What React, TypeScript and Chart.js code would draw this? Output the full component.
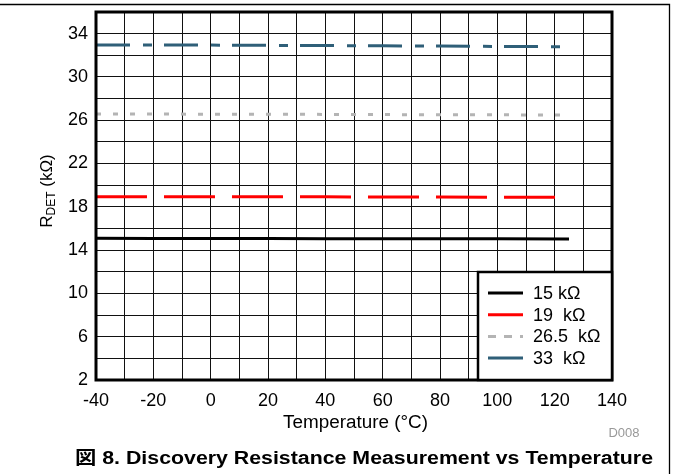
import React, { useEffect, useRef } from "react";
import { Chart, registerables } from "chart.js";

Chart.register(...registerables);

// ---- data ----
const temperatures = [-40, -20, 0, 20, 40, 60, 80, 100, 125];
const r15 = [15.09, 15.08, 15.08, 15.07, 15.06, 15.05, 15.05, 15.04, 15.03];
const r19 = [18.94, 18.93, 18.93, 18.92, 18.92, 18.91, 18.9, 18.89, 18.88];
const r265 = [26.58, 26.57, 26.56, 26.55, 26.54, 26.52, 26.51, 26.5, 26.48];
const r33 = [32.95, 32.95, 32.94, 32.92, 32.9, 32.88, 32.85, 32.82, 32.79];
const seriesLabels = ["15 kΩ", "19  kΩ", "26.5  kΩ", "33  kΩ"];
const xTickLabels = [-40, -20, 0, 20, 40, 60, 80, 100, 120, 140];
const yTickLabels = [2, 6, 10, 14, 18, 22, 26, 30, 34];

const FONT = "'Liberation Sans', Arial, Helvetica, sans-serif";

const pts = (ys: number[]) => temperatures.map((x, i) => ({ x, y: ys[i] }));

function fitText(ctx: CanvasRenderingContext2D, text: string, x: number, y: number, width: number) {
  const w = ctx.measureText(text).width;
  const sx = width / w;
  ctx.save();
  ctx.translate(x, y);
  ctx.scale(sx, 1);
  ctx.textAlign = "left";
  ctx.fillText(text, 0, 0);
  ctx.restore();
}

const decorPlugin = {
  id: "decor",
  beforeDraw(chart: any) {
    const ctx = chart.ctx;
    ctx.save();
    ctx.fillStyle = "#fff";
    ctx.fillRect(0, 0, chart.width, chart.height);
    ctx.restore();
  },
  afterDraw(chart: any) {
    const ctx = chart.ctx as CanvasRenderingContext2D;
    const a = chart.chartArea;
    ctx.save();
    // outer frame lines (top and right)
    ctx.strokeStyle = "#000";
    ctx.lineWidth = 1.3;
    ctx.beginPath();
    ctx.moveTo(0, 4.5);
    ctx.lineTo(669.5, 4.5);
    ctx.lineTo(669.5, chart.height);
    ctx.stroke();

    // plot border
    ctx.lineWidth = 3;
    ctx.strokeRect(a.left, a.top, a.right - a.left, a.bottom - a.top);

    // legend
    const lw = 134, lh = 108;
    const lx = a.right - lw, ly = a.bottom - lh;
    ctx.fillStyle = "#fff";
    ctx.fillRect(lx, ly, lw, lh);
    ctx.lineWidth = 2.5;
    ctx.strokeRect(lx, ly, lw, lh);
    ctx.font = `18px ${FONT}`;
    ctx.textBaseline = "middle";
    ctx.textAlign = "left";
    chart.data.datasets.forEach((ds: any, i: number) => {
      const y = ly + 21 + i * 21.7;
      ctx.strokeStyle = ds.borderColor;
      ctx.lineWidth = 3;
      ctx.setLineDash(i === 2 ? [8, 8] : []);
      ctx.beginPath();
      ctx.moveTo(lx + 10, y);
      ctx.lineTo(lx + 45, y);
      ctx.stroke();
      ctx.setLineDash([]);
      ctx.fillStyle = "#000";
      ctx.fillText(ds.label, lx + 55, y + 1);
    });

    // y axis title (rotated) with subscript
    ctx.save();
    ctx.translate(52, 191);
    ctx.rotate(-Math.PI / 2);
    const big = `17px ${FONT}`;
    const small = `12px ${FONT}`;
    ctx.font = big;
    const wR = ctx.measureText("R").width;
    const wRest = ctx.measureText(" (kΩ)").width;
    ctx.font = small;
    const wSub = ctx.measureText("DET").width;
    const total = wR + wSub + wRest;
    let cx = -total / 2;
    ctx.fillStyle = "#000";
    ctx.textBaseline = "alphabetic";
    ctx.textAlign = "left";
    ctx.font = big;
    ctx.fillText("R", cx, 0);
    cx += wR;
    ctx.font = small;
    ctx.fillText("DET", cx, 3);
    cx += wSub;
    ctx.font = big;
    ctx.fillText(" (kΩ)", cx, 0);
    ctx.restore();

    // x axis title
    ctx.fillStyle = "#000";
    ctx.font = `18px ${FONT}`;
    ctx.textBaseline = "alphabetic";
    fitText(ctx, "Temperature (°C)", 283, 428, 145);

    // D008
    ctx.fillStyle = "#999";
    ctx.font = `13px ${FONT}`;
    ctx.textAlign = "center";
    ctx.fillText("D008", 624, 437);

    // caption
    ctx.fillStyle = "#000";
    ctx.font = `bold 18px ${FONT}, 'Noto Sans CJK JP'`;
    fitText(ctx, "図 8. Discovery Resistance Measurement vs Temperature", 75, 464, 578);
    ctx.restore();
  },
};

export default function App() {
  const ref = useRef<HTMLCanvasElement>(null);
  useEffect(() => {
    if (!ref.current) return;
    const gridColor = "#111";
    const chart = new Chart(ref.current, {
      type: "line",
      data: {
        datasets: [
          { label: seriesLabels[0], data: pts(r15), borderColor: "#000000", borderWidth: 3 },
          { label: seriesLabels[1], data: pts(r19), borderColor: "#ff0000", borderWidth: 3, borderDash: [51, 17] },
          { label: seriesLabels[2], data: pts(r265), borderColor: "#b4b4b4", borderWidth: 3, borderDash: [5, 12] },
          { label: seriesLabels[3], data: pts(r33), borderColor: "#2f5f78", borderWidth: 3, borderDash: [34, 13, 9, 12] },
        ] as any,
      },
      options: {
        animation: false,
        responsive: false,
        devicePixelRatio: 1,
        elements: { point: { radius: 0 }, line: { tension: 0 } },
        layout: { padding: { left: 0, top: 12, right: 61, bottom: 0 } },
        plugins: { legend: { display: false }, tooltip: { enabled: false } },
        scales: {
          x: {
            type: "linear",
            min: -40,
            max: 140,
            border: { display: false },
            grid: { color: gridColor, lineWidth: 1, drawTicks: false },
            ticks: {
              stepSize: 10,
              autoSkip: false,
              maxRotation: 0,
              padding: 10,
              color: "#000",
              font: { family: FONT, size: 18 },
              callback: (v: any) => (xTickLabels.includes(Number(v)) ? String(v) : ""),
            },
            afterFit: (s: any) => {
              s.height = 94;
              s.paddingLeft = 0;
              s.paddingRight = 0;
            },
          },
          y: {
            type: "linear",
            min: 2,
            max: 36,
            border: { display: false },
            grid: { color: gridColor, lineWidth: 1, drawTicks: false },
            ticks: {
              stepSize: 2,
              autoSkip: false,
              padding: 8,
              color: "#000",
              font: { family: FONT, size: 18 },
              callback: (v: any) => (yTickLabels.includes(Number(v)) ? String(v) : ""),
            },
            afterFit: (s: any) => {
              s.width = 96;
              s.paddingTop = 0;
              s.paddingBottom = 0;
            },
          },
        },
      },
      plugins: [decorPlugin],
    });
    return () => chart.destroy();
  }, []);
  return (
    <div style={{ position: "absolute", left: 0, top: 0, width: 673, height: 474 }}>
      <canvas ref={ref} width={673} height={474} style={{ width: 673, height: 474 }} />
    </div>
  );
}
